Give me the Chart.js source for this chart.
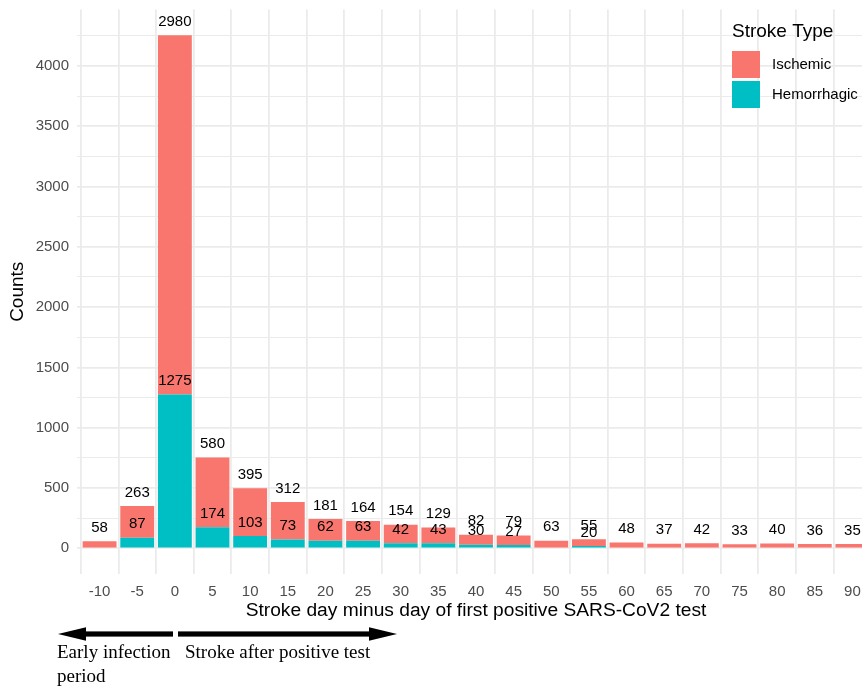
<!DOCTYPE html>
<html>
<head>
<meta charset="utf-8">
<script src="https://cdn.jsdelivr.net/npm/chart.js@4/dist/chart.umd.min.js"></script>
<style>
  html, body { margin: 0; padding: 0; background: #ffffff; overflow: hidden; }
  #wrap { width: 862px; height: 688px; overflow: hidden; position: relative; }
  canvas { display: block; }
</style>
</head>
<body>
<div id="wrap"><canvas id="chart" width="875" height="688"></canvas></div>
<script>
// Days relative to first positive test (bin centres)
const days = [-10, -5, 0, 5, 10, 15, 20, 25, 30, 35, 40, 45, 50, 55, 60, 65, 70, 75, 80, 85, 90];
// Stroke counts per bin
const ischemic    = [58, 263, 2980, 580, 395, 312, 181, 164, 154, 129, 82, 79, 63, 55, 48, 37, 42, 33, 40, 36, 35];
const hemorrhagic = [null, 87, 1275, 174, 103, 73, 62, 63, 42, 43, 30, 27, null, 20, null, null, null, null, null, null, null];
// Axis tick labels
const yTickLabels = [0, 500, 1000, 1500, 2000, 2500, 3000, 3500, 4000];
const xTickLabels = days;

const SANS = '"Liberation Sans", Arial, Helvetica, sans-serif';
const SERIF = '"Liberation Serif", "Times New Roman", Times, serif';
const RED = '#F8766D';
const TEAL = '#00BFC4';

// Gridlines: labelled breaks plus a minor line halfway between each pair
function yGridValues() {
  const out = [];
  yTickLabels.forEach((v, i) => {
    out.push(v);
    const next = i + 1 < yTickLabels.length ? yTickLabels[i + 1] : v + (v - yTickLabels[i - 1]);
    out.push((v + next) / 2);
  });
  return out;
}

// Count labels: ischemic above the full stack, hemorrhagic above its own segment
const valueLabels = {
  id: 'valueLabels',
  afterDatasetsDraw(chart) {
    const { ctx, scales: { x, y } } = chart;
    ctx.save();
    ctx.font = '15px ' + SANS;
    ctx.fillStyle = '#000000';
    ctx.textAlign = 'center';
    ctx.textBaseline = 'middle';
    days.forEach((d, i) => {
      const px = x.getPixelForValue(d);
      const h = hemorrhagic[i] == null ? 0 : hemorrhagic[i];
      ctx.fillText(String(ischemic[i]), px, y.getPixelForValue(ischemic[i] + h) - 13.5);
      if (hemorrhagic[i] != null) {
        ctx.fillText(String(hemorrhagic[i]), px, y.getPixelForValue(hemorrhagic[i]) - 13.5);
      }
    });
    ctx.restore();
  }
};

// Legend drawn inside the panel, top right
const strokeLegend = {
  id: 'strokeLegend',
  afterDraw(chart) {
    const ctx = chart.ctx;
    ctx.save();
    ctx.fillStyle = '#000000';
    ctx.textAlign = 'left';
    ctx.textBaseline = 'middle';
    ctx.font = '19px ' + SANS;
    ctx.fillText('Stroke Type', 732, 32);
    const items = [
      { label: chart.data.datasets[1].label, color: chart.data.datasets[1].backgroundColor, y: 51 },
      { label: chart.data.datasets[0].label, color: chart.data.datasets[0].backgroundColor, y: 81 }
    ];
    ctx.font = '15px ' + SANS;
    items.forEach(it => {
      ctx.fillStyle = it.color;
      ctx.fillRect(732, it.y, 28, 27);
      ctx.fillStyle = '#000000';
      ctx.fillText(it.label, 772, it.y + 14);
    });
    ctx.restore();
  }
};

// Period arrows and captions under the x axis
const periodArrows = {
  id: 'periodArrows',
  afterDraw(chart) {
    const ctx = chart.ctx;
    const yc = 634, shaft = 2.6, headH = 6.8, headL = 28;
    ctx.save();
    ctx.fillStyle = '#000000';
    // left-pointing arrow
    ctx.fillRect(58 + headL - 2, yc - shaft, 173 - (58 + headL - 2), shaft * 2);
    ctx.beginPath();
    ctx.moveTo(58, yc);
    ctx.lineTo(58 + headL, yc - headH);
    ctx.lineTo(58 + headL, yc + headH);
    ctx.closePath();
    ctx.fill();
    // right-pointing arrow
    ctx.fillRect(178, yc - shaft, (397 - headL + 2) - 178, shaft * 2);
    ctx.beginPath();
    ctx.moveTo(397, yc);
    ctx.lineTo(397 - headL, yc - headH);
    ctx.lineTo(397 - headL, yc + headH);
    ctx.closePath();
    ctx.fill();
    // captions
    ctx.font = '19px ' + SERIF;
    ctx.textAlign = 'left';
    ctx.textBaseline = 'middle';
    ctx.fillText('Early infection', 57, 653);
    ctx.fillText('period', 57, 677);
    ctx.fillText('Stroke after positive test', 185, 653);
    ctx.restore();
  }
};

new Chart(document.getElementById('chart'), {
  type: 'bar',
  data: {
    datasets: [
      {
        label: 'Hemorrhagic',
        data: days.map((d, i) => ({ x: d, y: hemorrhagic[i] })),
        backgroundColor: TEAL,
        borderWidth: 0,
        categoryPercentage: 1.0,
        barPercentage: 0.9
      },
      {
        label: 'Ischemic',
        data: days.map((d, i) => ({ x: d, y: ischemic[i] })),
        backgroundColor: RED,
        borderWidth: 0,
        categoryPercentage: 1.0,
        barPercentage: 0.9
      }
    ]
  },
  options: {
    responsive: false,
    animation: false,
    devicePixelRatio: 1,
    layout: { padding: { top: 9.5, left: 0, right: 0, bottom: 0 } },
    plugins: { legend: { display: false }, tooltip: { enabled: false } },
    scales: {
      x: {
        type: 'linear',
        stacked: true,
        min: -13,
        max: 93,
        offset: false,
        border: { display: false },
        grid: { color: '#EBEBEB', lineWidth: 1.8, drawTicks: false },
        ticks: {
          autoSkip: false,
          maxRotation: 0,
          minRotation: 0,
          padding: 9,
          color: '#4D4D4D',
          font: { family: SANS, size: 15 },
          callback: v => String(v)
        },
        afterBuildTicks: s => { s.ticks = xTickLabels.map(v => ({ value: v })); },
        afterFit: s => { s.height = 114; s.paddingLeft = 0; s.paddingRight = 0; },
        title: {
          display: true,
          text: 'Stroke day minus day of first positive SARS-CoV2 test',
          color: '#000000',
          font: { family: SANS, size: 19.2 },
          padding: { top: 0, bottom: 66 }
        }
      },
      y: {
        stacked: true,
        min: -213,
        max: 4468,
        border: { display: false },
        grid: {
          color: '#EBEBEB',
          lineWidth: ctx => (yTickLabels.includes(ctx.tick.value) ? 1.8 : 1.0),
          drawTicks: false
        },
        ticks: {
          autoSkip: false,
          padding: 8,
          color: '#4D4D4D',
          font: { family: SANS, size: 15 },
          callback: v => (yTickLabels.includes(v) ? String(v) : '')
        },
        afterBuildTicks: s => { s.ticks = yGridValues().map(v => ({ value: v })); },
        afterFit: s => { s.width = 77; s.paddingTop = 0; s.paddingBottom = 0; },
        title: {
          display: true,
          text: 'Counts',
          color: '#000000',
          font: { family: SANS, size: 19 },
          padding: { top: 6.5, bottom: 0 }
        }
      }
    }
  },
  plugins: [valueLabels, strokeLegend, periodArrows]
});
</script>
</body>
</html>
